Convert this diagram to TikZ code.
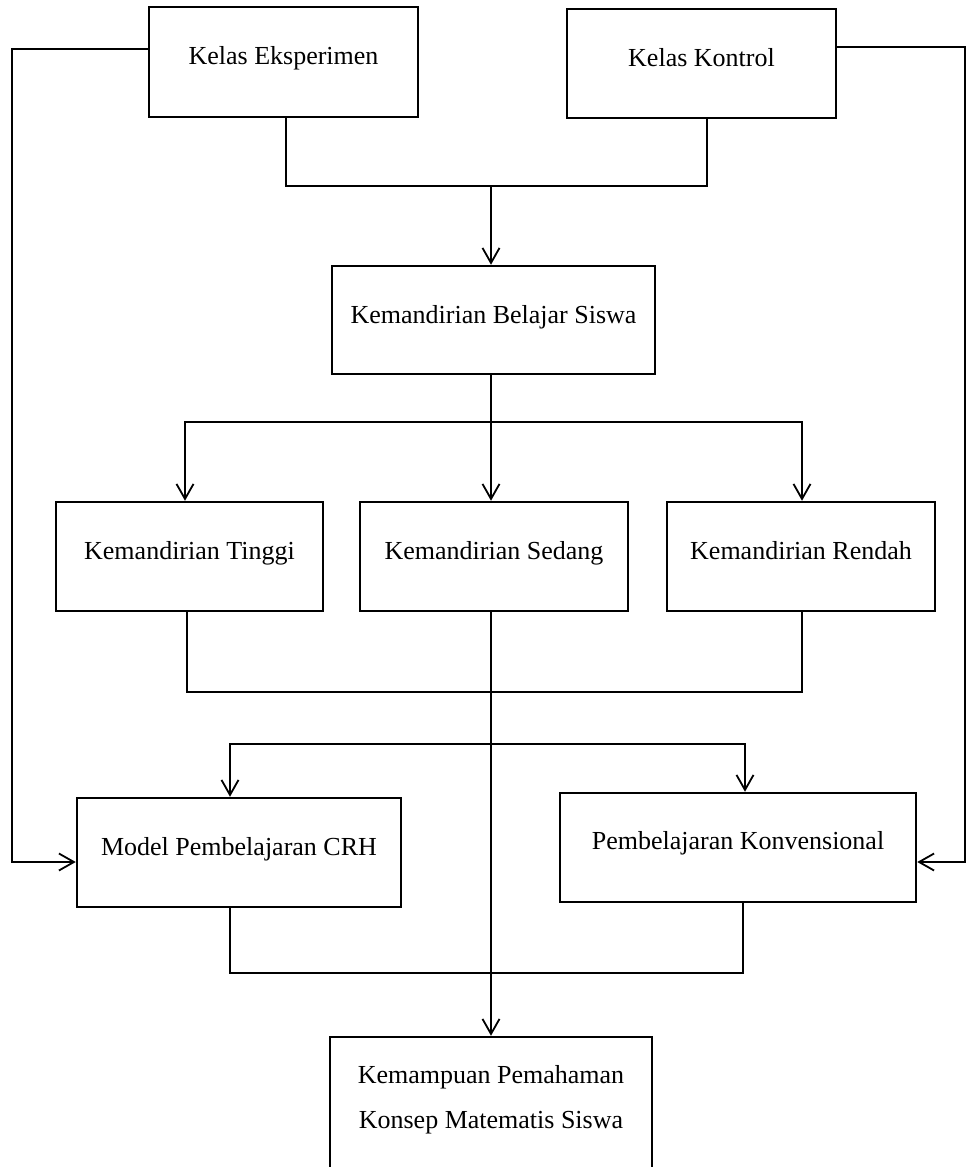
\documentclass[tikz,border=0pt]{standalone}
\usepackage{fontspec}
\setmainfont{Liberation Serif}
\usetikzlibrary{arrows.meta}
\newcommand{\liftt}[2]{\raisebox{#1pt}[\height][\depth]{\strut #2}}
\tikzset{
  box/.style={draw=black, line width=2.5pt, fill=white, inner sep=0pt,
    font=\fontsize{26}{31}\selectfont, text=black},
  conn/.style={draw=black, line width=1.8pt},
  arr/.style={conn, -{Straight Barb[length=15pt,width=17pt,line width=1.8pt]}}
}
\begin{document}
\begin{tikzpicture}[x=1pt,y=-1pt]
\useasboundingbox (0,0) rectangle (967,1167);
\fill[white] (0,0) rectangle (967,1167);
\clip (0,0) rectangle (967,1167);

% boxes
\node[box, minimum width=269pt, minimum height=110pt] (ke) at (283.5,62) {\liftt{4.2}{Kelas Eksperimen}};
\node[box, minimum width=269pt, minimum height=109pt] (kk) at (701.5,63.5) {\liftt{3.7}{Kelas Kontrol}};
\node[box, minimum width=323pt, minimum height=108pt] (kbs) at (493.5,320) {\liftt{3.2}{Kemandirian Belajar Siswa}};
\node[box, minimum width=267pt, minimum height=109pt] (tinggi) at (189.5,556.5) {\liftt{3.5}{Kemandirian Tinggi}};
\node[box, minimum width=268pt, minimum height=109pt] (sedang) at (494,556.5) {\liftt{3.5}{Kemandirian Sedang}};
\node[box, minimum width=268pt, minimum height=109pt] (rendah) at (801,556.5) {\liftt{3.5}{Kemandirian Rendah}};
\node[box, minimum width=324pt, minimum height=109pt] (crh) at (239,852.5) {\liftt{3.7}{Model Pembelajaran CRH}};
\node[box, minimum width=356pt, minimum height=109pt] (konv) at (738,847.5) {\liftt{4.7}{Pembelajaran Konvensional}};
\node[box, minimum width=322pt, minimum height=150pt] (kpk) at (491,1112)
  {\raisebox{12.5pt}[\height][\depth]{\begin{tabular}{@{}c@{}}Kemampuan Pemahaman\\[14pt]Konsep Matematis Siswa\end{tabular}}};

% junction coordinates
\coordinate (L) at (12,862);
\coordinate (R) at (965,862);
\coordinate (j1) at (491,186);
\coordinate (j2) at (491,422);
\coordinate (j3) at (491,692);
\coordinate (j4) at (491,744);
\coordinate (j5) at (491,973);

% side lines
\draw[arr] ([yshift=13pt]ke.west) -| (L) -- ([yshift=-9.5pt]crh.west);
\draw[arr] ([yshift=16.5pt]kk.east) -| (R) -- ([yshift=-14.5pt]konv.east);

% top merge
\draw[conn] ([xshift=2.5pt]ke.south) |- (j1);
\draw[conn] ([xshift=5.5pt]kk.south) |- (j1);
\draw[arr] (j1) -- (j1 |- kbs.north);

% split to three
\draw[conn] (kbs.south -| j2) -- (j2);
\draw[arr] (j2) -| ([xshift=-4.5pt]tinggi.north);
\draw[arr] (j2) -- (j2 |- sedang.north);
\draw[arr] (j2) -| ([xshift=1pt]rendah.north);

% merge three
\draw[conn] ([xshift=-2.5pt]tinggi.south) |- (j3);
\draw[conn] ([xshift=1pt]rendah.south) |- (j3);

% main vertical
\draw[arr] (sedang.south -| j3) -- (kpk.north -| j3);

% split to models
\draw[arr] (j4) -| ([xshift=-9pt]crh.north);
\draw[arr] (j4) -| ([xshift=7pt]konv.north);

% merge models
\draw[conn] ([xshift=-9pt]crh.south) |- (j5);
\draw[conn] ([xshift=5pt]konv.south) |- (j5);
\end{tikzpicture}
\end{document}
